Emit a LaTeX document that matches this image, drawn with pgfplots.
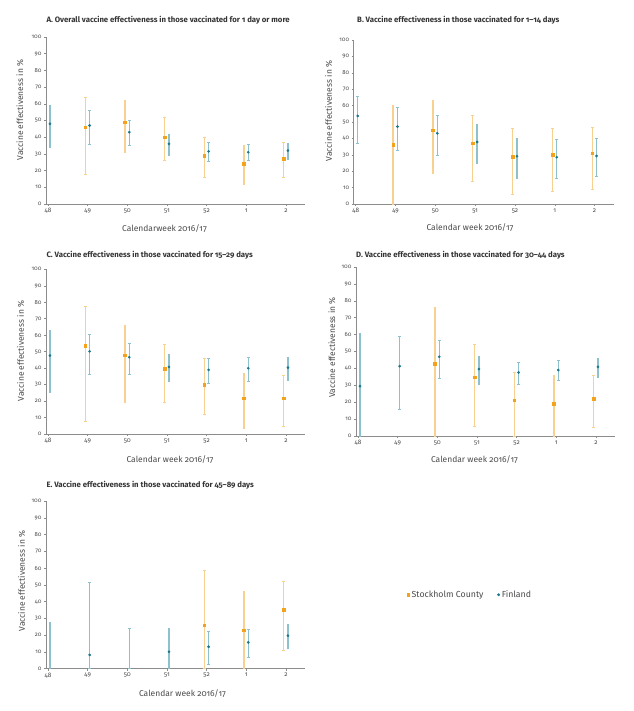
\documentclass[border=0pt]{standalone}
\usepackage{pgfplots}
\usepackage{pgfplotstable}
\pgfplotsset{compat=1.18}
\usepackage{fontspec}
\setmainfont{Fira Sans}[Numbers=OldStyle]
\definecolor{sc}{HTML}{F3A21C}
\definecolor{scl}{HTML}{F8D190}
\definecolor{fi}{HTML}{16788A}
\definecolor{fil}{HTML}{8DC1CD}
\definecolor{axc}{HTML}{8C8C8C}
\definecolor{txt}{HTML}{4A4A4A}

\pgfplotstableread{
x y lo hi
1 46 18 64
2 49 31 62
3 40 26 52
4 29 16 40
5 24 12 35
6 27 16 37
}\ASC
\pgfplotstableread{
x y lo hi
0 48 34 59
1 47 36 56
2 43 35 50
3 36 29 42
4 31.5 25.5 36.7
5 31 26 35.5
6 32 27 36.3
}\AFI
\pgfplotstableread{
x y lo hi
1 36 0 60
2 45 18.7 63.4
3 37 13.6 54
4 29 5.7 46
5 30 7.7 46
6 31 8.7 47
}\BSC
\pgfplotstableread{
x y lo hi
0 53.7 37 65.4
1 47.2 32.9 58.9
2 43.1 29.7 54
3 37.8 25 48.6
4 29.1 15.4 40.2
5 28.5 15.4 39.4
6 29.3 16.7 40.2
}\BFI
\pgfplotstableread{
x y lo hi
1 53.6 7.7 77.5
2 47.8 19.4 65.8
3 39.7 19.4 54.5
4 29.8 11.9 46.2
5 21.7 3.6 36.8
6 21.7 4.7 35.6
}\CSC
\pgfplotstableread{
x y lo hi
0 47.6 25.3 63.2
1 50.2 36.4 60.5
2 46.6 36.4 54.9
3 40.7 32 48.4
4 38.9 30.6 46.2
5 39.9 31.8 46.4
6 40.3 32.6 46.8
}\CFI
\pgfplotstableread{
x y lo hi
2 42.9 0 76.2
3 34.8 5.9 54.1
4 21.1 0 38
5 19.1 0 35.8
6 22 5.1 35.8
}\DSC
\pgfplotstableread{
x y lo hi
0 29.5 0 60.6
1 41.3 15.7 59
2 46.9 34.4 56.5
3 39.6 30.9 47.2
4 37.6 30.9 43.7
5 39 32.9 44.7
6 40.9 35 46.1
}\DFI
\pgfplotstableread{
x y lo hi
4 26 0 58.8
5 23 0 45.9
6 35 11.1 52
}\ESC
\pgfplotstableread{
x y lo hi
1 8.2 0 51.3
3 10.1 0 24
4 13.1 2.6 22.5
5 15.7 7 23.5
6 19.7 12.1 26.4
}\EFI
\pgfplotstableread{
x y lo hi
0 0 0 27.8
2 0 0 23.9
}\EFIbar

\pgfplotsset{
  veaxis/.style={
    scale only axis, width=259bp, height=167bp,
    xmin=-0.05, xmax=6.48, ymin=0, ymax=100,
    axis lines=left, axis line style={axc, -, line width=0.6bp},
    xtick={0,...,6}, xticklabels={48,49,50,51,52,1,2},
    ytick={0,10,...,100},
    tick style={axc, line width=0.5bp}, major tick length=2bp,
    tick align=outside,
    xticklabel style={font=\fontsize{6.5}{7}\selectfont, text=txt, yshift=1bp},
    yticklabel style={font=\fontsize{6}{7}\selectfont, text=txt, xshift=1bp},
    /pgf/number format/assume math mode=true,
    anchor=south west, clip=false,
  },
  scplot/.style={only marks, mark=square*, mark size=1.35bp, color=sc,
    error bars/y dir=both, error bars/y explicit,
    error bars/error bar style={scl, line width=1.3bp},
    error bars/error mark options={rotate=90, mark size=1.3bp, scl, line width=0.5bp}},
  fiplot/.style={only marks, mark=*, mark size=1.15bp, color=fi,
    error bars/y dir=both, error bars/y explicit,
    error bars/error bar style={fil, line width=1.3bp},
    error bars/error mark options={rotate=90, mark size=1.3bp, fil, line width=0.5bp}},
  sctab/.style={/pgfplots/table/x expr=\thisrow{x}-0.06, /pgfplots/table/y=y,
    /pgfplots/table/y error plus expr=\thisrow{hi}-\thisrow{y},
    /pgfplots/table/y error minus expr=\thisrow{y}-\thisrow{lo}},
  fitab/.style={/pgfplots/table/x expr=\thisrow{x}+0.05, /pgfplots/table/y=y,
    /pgfplots/table/y error plus expr=\thisrow{hi}-\thisrow{y},
    /pgfplots/table/y error minus expr=\thisrow{y}-\thisrow{lo}},
}

\begin{document}
\begin{tikzpicture}
\useasboundingbox (0,0) rectangle (634bp,711bp);
% A
\begin{axis}[veaxis, at={(46bp,507bp)}]
\addplot[scplot] table[sctab] {\ASC};
\addplot[fiplot] table[fitab] {\AFI};
\end{axis}
% B
\begin{axis}[veaxis, at={(353.7bp,507bp)}, width=260bp, height=164bp]
\addplot[scplot] table[sctab] {\BSC};
\addplot[fiplot] table[fitab] {\BFI};
\end{axis}
% C
\begin{axis}[veaxis, at={(46bp,277bp)}, height=164.7bp]
\addplot[scplot] table[sctab] {\CSC};
\addplot[fiplot] table[fitab] {\CFI};
\end{axis}
% D
\begin{axis}[veaxis, at={(356bp,275bp)}, height=169bp]
\addplot[scplot] table[sctab] {\DSC};
\addplot[fiplot] table[fitab] {\DFI};
\end{axis}
% E
\begin{axis}[veaxis, at={(46bp,42.3bp)}, height=167.7bp,
  legend style={at={(rel axis cs:1.393,0.441)}, anchor=west, draw=none, fill=none,
    font=\fontsize{8.8}{10}\selectfont, text=txt, legend columns=2,
    /tikz/every even column/.append style={column sep=12bp},
    legend cell align=left, inner sep=0pt}]
\addplot[scplot] table[sctab] {\ESC};
\addlegendentry{Stockholm County}
\addplot[fiplot] table[fitab] {\EFI};
\addlegendentry{Finland}
\addplot[fiplot, mark size=0pt, mark options={draw=none, fill=none}, forget plot] table[fitab] {\EFIbar};
\end{axis}

\tikzset{ttl/.style={anchor=base west, font=\bfseries\fontsize{7.8}{9}\selectfont, text=black!80},
         xl/.style={anchor=center, font=\fontsize{8.5}{10}\selectfont, text=txt},
         yl/.style={anchor=center, rotate=90, font=\fontsize{8.5}{10}\selectfont, text=txt}}
\node[ttl] at (43bp,688bp) {A. Overall vaccine effectiveness in those vaccinated for 1 day or more};
\node[ttl] at (353.7bp,688bp) {B. Vaccine effectiveness in those vaccinated for 1–14 days};
\node[ttl] at (43bp,453.5bp) {C. Vaccine effectiveness in those vaccinated for 15–29 days};
\node[ttl] at (352.7bp,453.5bp) {D. Vaccine effectiveness in those vaccinated for 30–44 days};
\node[ttl] at (43bp,223.5bp) {E. Vaccine effectiveness in those vaccinated for 45–89 days};

\node[xl] at (164.5bp,482bp) {Calendarweek 2016/17};
\node[xl] at (470bp,483bp) {Calendar week 2016/17};
\node[xl] at (170bp,251bp) {Calendar week 2016/17};
\node[xl] at (474.5bp,251bp) {Calendar week 2016/17};
\node[xl] at (182.5bp,17bp) {Calendar week 2016/17};

\node[yl] at (20bp,601bp) {Vaccine effectiveness in \%};
\node[yl] at (328.7bp,600bp) {Vaccine effectiveness in \%};
\node[yl] at (20.7bp,360bp) {Vaccine effectiveness in \%};
\node[yl] at (332bp,363.5bp) {Vaccine effectiveness in \%};
\node[yl] at (21.7bp,130bp) {Vaccine effectiveness in \%};
\end{tikzpicture}
\end{document}
